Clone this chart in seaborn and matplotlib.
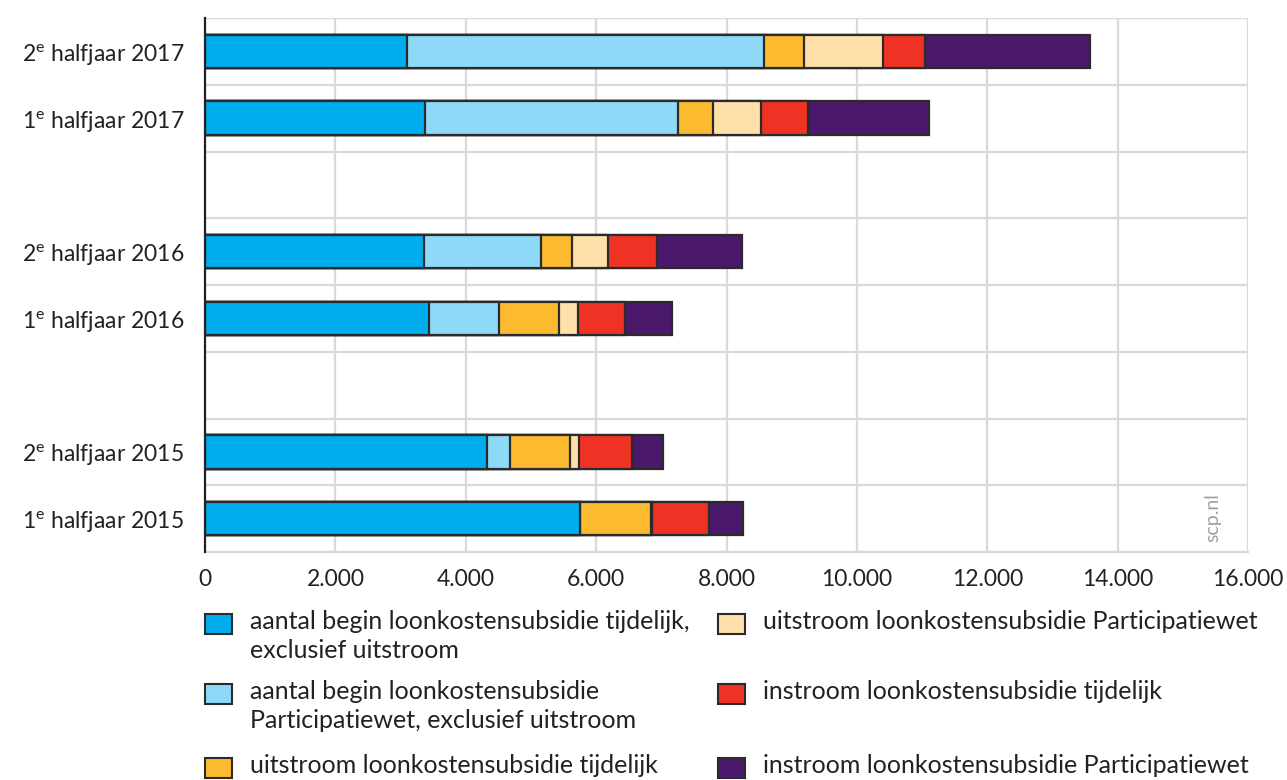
import matplotlib
matplotlib.use("Agg")

import pandas as pd
import matplotlib.pyplot as plt
import matplotlib.patches as mpatches
import seaborn as sns

# periodes van boven naar beneden, met lege rijen tussen de jaren
periodes = ["2e halfjaar 2017", "1e halfjaar 2017", "2e halfjaar 2016",
            "1e halfjaar 2016", "2e halfjaar 2015", "1e halfjaar 2015"]
volgorde = ["2e halfjaar 2017", "1e halfjaar 2017", "leeg_2016",
            "2e halfjaar 2016", "1e halfjaar 2016", "leeg_2015",
            "2e halfjaar 2015", "1e halfjaar 2015"]
tick_labels = ["2$^\\mathregular{e}$ halfjaar 2017", "1$^\\mathregular{e}$ halfjaar 2017", "",
               "2$^\\mathregular{e}$ halfjaar 2016", "1$^\\mathregular{e}$ halfjaar 2016", "",
               "2$^\\mathregular{e}$ halfjaar 2015", "1$^\\mathregular{e}$ halfjaar 2015"]

begin_tijdelijk = [3094, 3375, 3359, 3441, 4321, 5752]
begin_pw        = [5480, 3876, 1791, 1069, 358, 0]
uit_tijdelijk   = [614, 540, 484, 916, 920, 1085]
uit_pw          = [1212, 740, 543, 300, 138, 25]
in_tijdelijk    = [644, 720, 757, 721, 808, 868]
in_pw           = [2536, 1860, 1299, 713, 485, 520]

reeksen = ["aantal begin loonkostensubsidie tijdelijk,\nexclusief uitstroom",
           "aantal begin loonkostensubsidie\nParticipatiewet, exclusief uitstroom",
           "uitstroom loonkostensubsidie tijdelijk",
           "uitstroom loonkostensubsidie Participatiewet",
           "instroom loonkostensubsidie tijdelijk",
           "instroom loonkostensubsidie Participatiewet"]
kleuren = ["#00AEEF", "#8FD9F8", "#FBBA30", "#FFDFAA", "#EE3224", "#4A196B"]
x_ticks = [0, 2000, 4000, 6000, 8000, 10000, 12000, 14000, 16000]

sns.set_theme(style="white")
plt.rcParams["font.family"] = ["Lato", "DejaVu Sans"]
plt.rcParams["mathtext.default"] = "regular"

df = pd.DataFrame({"periode": periodes,
                   "s0": begin_tijdelijk, "s1": begin_pw, "s2": uit_tijdelijk,
                   "s3": uit_pw, "s4": in_tijdelijk, "s5": in_pw})
cols = ["s0", "s1", "s2", "s3", "s4", "s5"]
cum = df[cols].cumsum(axis=1)
cum["periode"] = df["periode"]

fig = plt.figure(figsize=(12.87, 7.8), dpi=100)
ax = fig.add_axes([205 / 1287, 1 - 552 / 780, (1248 - 205) / 1287, (552 - 18) / 780])

# gestapeld: grootste cumulatieve eerst, daarna de kleinere eroverheen
for i in range(len(cols) - 1, -1, -1):
    sns.barplot(data=cum, y="periode", x=cols[i], order=volgorde, orient="h",
                color=kleuren[i], saturation=1, width=0.5,
                edgecolor="#2b2b2b", linewidth=1.6, ax=ax, zorder=3)

ax.set_xlim(0, 16000)
ax.set_ylim(7.5, -0.5)
ax.set_xticks(x_ticks)
ax.set_xticklabels([f"{v:,}".replace(",", ".") for v in x_ticks], fontsize=16.5, color="#222222")
ax.set_yticks(range(len(volgorde)))
ax.set_yticklabels(tick_labels, fontsize=16.5, color="#222222")
ax.set_yticks([k + 0.5 for k in range(-1, 8)], minor=True)
ax.tick_params(axis="x", length=0, pad=12)
ax.tick_params(axis="y", which="both", length=0, pad=15)
ax.set_xlabel("")
ax.set_ylabel("")

ax.grid(axis="x", which="major", color="#d9d9d9", linewidth=1.6, zorder=0)
ax.grid(axis="y", which="minor", color="#d9d9d9", linewidth=1.6, zorder=0)
ax.grid(axis="y", which="major", visible=False)
ax.set_axisbelow(True)
for s in ["top", "right"]:
    ax.spines[s].set_visible(False)
ax.spines["bottom"].set_color("#d9d9d9")
ax.spines["bottom"].set_linewidth(1.6)
ax.spines["left"].set_color("#222222")
ax.spines["left"].set_linewidth(1.6)
ax.spines["left"].set_zorder(5)

ax.text(0.966, 0.065, "scp.nl", transform=ax.transAxes, rotation=90,
        fontsize=14, color="#a0a0a0", ha="center", va="center")

# legenda handmatig, twee kolommen
posities = [(205, 614), (205, 684), (205, 758), (718, 614), (718, 684), (718, 758)]
for (px, py), label, kleur in zip(posities, reeksen, kleuren):
    fig.patches.append(mpatches.Rectangle((px / 1287, 1 - (py + 20) / 780), 27 / 1287, 20 / 780,
                                          transform=fig.transFigure, facecolor=kleur,
                                          edgecolor="#2b2b2b", linewidth=1.5))
    fig.text((px + 45) / 1287, 1 - (py - 4) / 780, label, fontsize=18, color="#222222",
             ha="left", va="top", linespacing=1.3)

fig.savefig("out.png", dpi=100)
